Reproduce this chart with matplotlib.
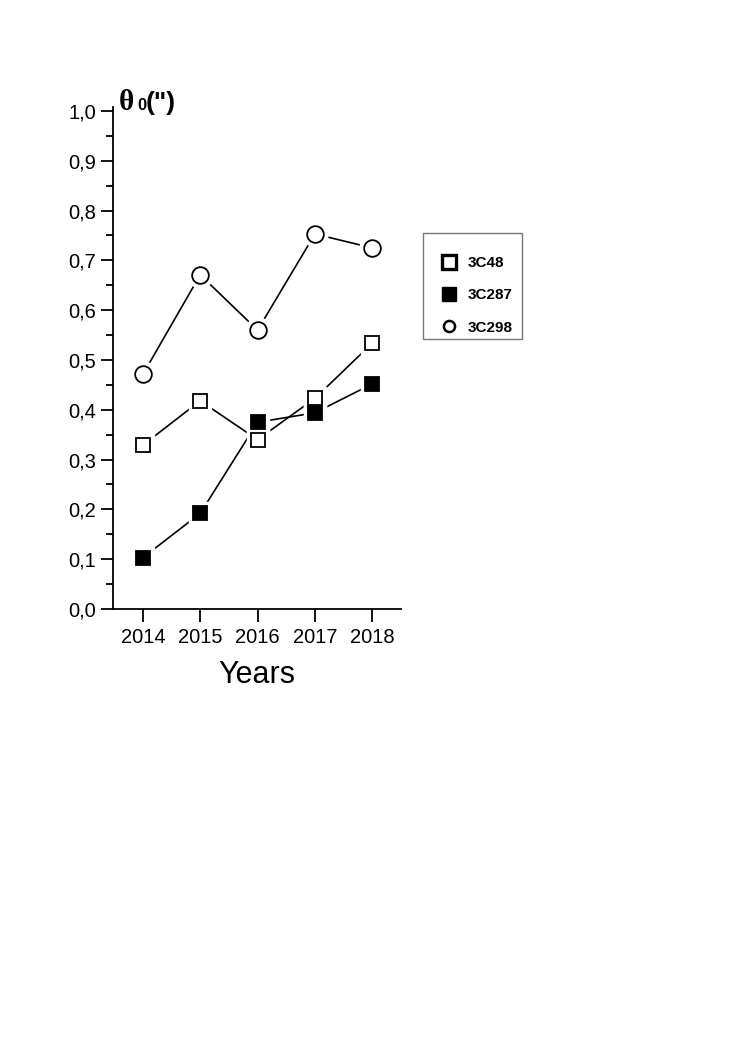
import matplotlib.pyplot as plt
from matplotlib.lines import Line2D
from matplotlib.patches import Rectangle

years = [2014, 2015, 2016, 2017, 2018]
theta_3c48 = [0.329, 0.418, 0.340, 0.423, 0.534]
theta_3c287 = [0.103, 0.192, 0.375, 0.394, 0.452]
theta_3c298 = [0.471, 0.671, 0.560, 0.753, 0.725]
yticks = [0.0, 0.1, 0.2, 0.3, 0.4, 0.5, 0.6, 0.7, 0.8, 0.9, 1.0]

plt.rcParams['font.family'] = ['Liberation Sans', 'DejaVu Sans']

W, H = 747, 1056
fig = plt.figure(figsize=(W / 100, H / 100), dpi=100)
ax = fig.add_axes([113 / W, 1 - 609 / H, 288 / W, 502 / H])

def series(y, marker, face, ms):
    # white halo under the markers gives the gap between line and marker
    ax.plot(years, y, color='black', lw=1.2, zorder=2)
    ax.plot(years, y, ls='none', marker=marker, ms=ms + 6, mfc='white', mec='white', zorder=3)
    ax.plot(years, y, ls='none', marker=marker, ms=ms, mfc=face, mec='black',
            mew=1.3, zorder=4)

series(theta_3c298, 'o', 'white', 12)
series(theta_3c48, 's', 'white', 10.5)
series(theta_3c287, 's', 'black', 10.5)

ax.set_xlim(2013.48, 2018.5)
ax.set_ylim(0, 1.008)
ax.set_xticks(years)
ax.set_yticks(yticks)
ax.set_yticklabels([f"{v:.1f}".replace('.', ',') for v in yticks])
ax.set_yticks([v + 0.05 for v in yticks[:-1]], minor=True)
ax.tick_params(axis='both', which='major', direction='out', length=9, width=1.3,
               labelsize=14.5, pad=3)
ax.tick_params(axis='x', pad=5)
ax.tick_params(axis='y', which='minor', direction='out', length=5, width=1.3)
for s in ['top', 'right']:
    ax.spines[s].set_visible(False)
for s in ['left', 'bottom']:
    ax.spines[s].set_linewidth(1.3)

ax.set_xlabel('Years', fontsize=22, labelpad=9)

fig.text(119 / W, 1 - 110 / H, 'θ', fontsize=21, fontweight='bold',
         family=['Liberation Serif', 'DejaVu Serif'])
fig.text(137 / W, 1 - 110 / H, '0', fontsize=12, fontweight='bold')
fig.text(146 / W, 1 - 110 / H, '(")', fontsize=19, fontweight='bold')

# legend frame drawn by hand: the padding in the original is uneven
fig.patches.append(Rectangle((423 / W, 1 - 339 / H), 99 / W, 106 / H,
                             transform=fig.transFigure, fill=False,
                             edgecolor='#777777', lw=1.0))
handles = [
    Line2D([], [], ls='none', marker='s', ms=10, mfc='white', mec='black', mew=2.4),
    Line2D([], [], ls='none', marker='s', ms=10, mfc='black', mec='black'),
    Line2D([], [], ls='none', marker='o', ms=8, mfc='white', mec='black', mew=1.8),
]
fig.legend(handles, ['3C48', '3C287', '3C298'], loc='upper left',
           bbox_to_anchor=(441 / W, 1 - 256 / H), borderaxespad=0,
           frameon=False, borderpad=0,
           prop={'weight': 'bold', 'size': 11}, handlelength=1.0,
           handletextpad=0.75, labelspacing=1.2)

fig.savefig('out.png', dpi=100)
